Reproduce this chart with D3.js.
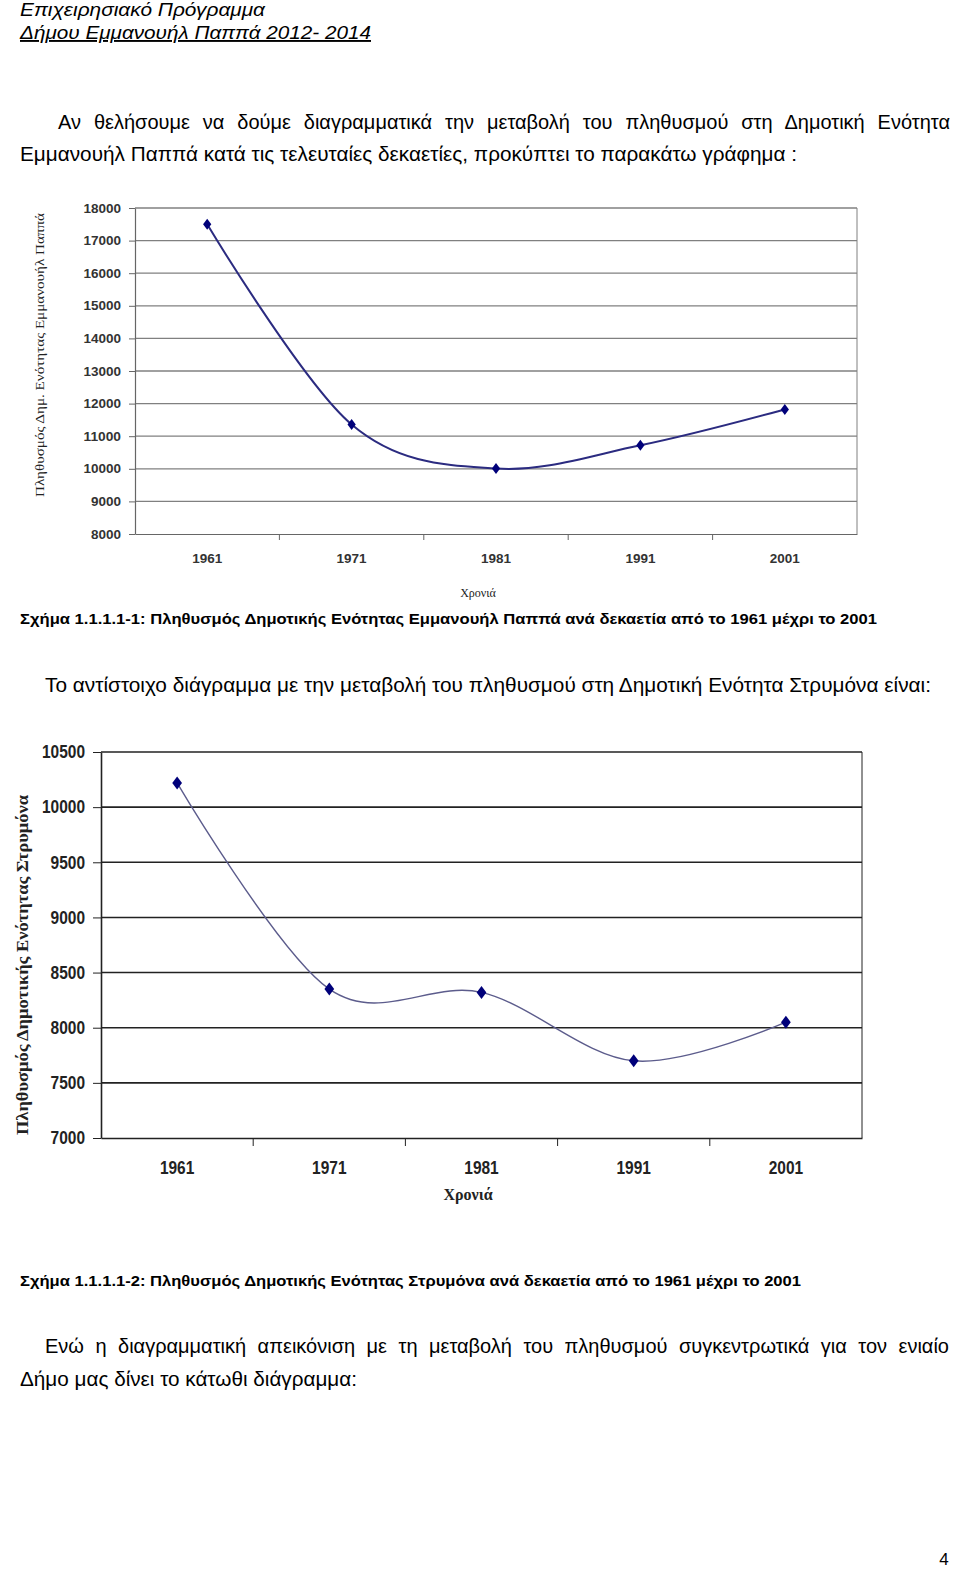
<!DOCTYPE html>
<html lang="el">
<head>
  <meta charset="UTF-8">
  <title>Πληθυσμός Δημοτικών Ενοτήτων</title>
  <style>
    body { margin: 0; background: #fff; }
    svg { display: block; }
  </style>
</head>
<body>
  <svg id="page" width="960" height="1579"></svg>

  <script src="https://d3js.org/d3.v7.min.js"></script>
  <script>
    // Data
    const years = ['1961', '1971', '1981', '1991', '2001'];
    const pappaPop = [17500, 11360, 10010, 10720, 11820];
    const pappaTicks = [8000, 9000, 10000, 11000, 12000, 13000, 14000, 15000, 16000, 17000, 18000];
    const strymonaPop = [10220, 8350, 8320, 7700, 8050];
    const strymonaTicks = [7000, 7500, 8000, 8500, 9000, 9500, 10000, 10500];

    const svg = d3.select('#page');
    const sans = '"Liberation Sans Narrow", "Arial Narrow", "Liberation Sans", Arial, sans-serif';
    const serif = '"Liberation Serif", "Times New Roman", "DejaVu Serif", serif';

    // one line of document text, fitted to the width it has in the page
    function textLine(str, x, y, width, o = {}) {
      const t = svg.append('text')
        .attr('x', x)
        .attr('y', y)
        .attr('font-family', o.family || sans)
        .attr('font-size', o.size || 20)
        .attr('font-weight', o.weight || 'normal')
        .attr('font-style', o.style || 'normal')
        .attr('fill', '#000')
        .text(str);
      const w = t.node().getComputedTextLength();
      const gaps = (str.match(/ /g) || []).length;
      if (o.justify && w < width && gaps) {
        t.style('word-spacing', ((width - w) / gaps) + 'px');
      } else {
        t.attr('textLength', width).attr('lengthAdjust', 'spacingAndGlyphs');
      }
      if (o.underline) t.attr('text-decoration', 'underline');
      return t;
    }

    // diamond marker, a bit wider than d3's own
    const diamond = {
      draw(ctx, r) {
        ctx.moveTo(0, -r);
        ctx.lineTo(r * 0.75, 0);
        ctx.lineTo(0, r);
        ctx.lineTo(-r * 0.75, 0);
        ctx.closePath();
      }
    };

    function drawChart(c) {
      const x = d3.scaleBand().domain(years).range([c.left, c.right]);
      const y = d3.scaleLinear()
        .domain([c.ticks[0], c.ticks[c.ticks.length - 1]])
        .range([c.bottom, c.top]);
      const g = svg.append('g');

      // horizontal gridlines
      g.append('g').selectAll('line')
        .data(c.ticks.slice(1))
        .join('line')
        .attr('x1', c.left).attr('x2', c.right)
        .attr('y1', d => y(d)).attr('y2', d => y(d))
        .attr('stroke', c.grid)
        .attr('stroke-width', c.gridW);

      // right edge of the plot area
      g.append('line')
        .attr('x1', c.right).attr('x2', c.right)
        .attr('y1', c.top).attr('y2', c.bottom)
        .attr('stroke', c.grid)
        .attr('stroke-width', 1);

      // y axis
      const ya = g.append('g')
        .attr('transform', `translate(${c.left},0)`)
        .call(d3.axisLeft(y).tickValues(c.ticks).tickSize(c.tick).tickSizeOuter(0)
          .tickPadding(c.pad).tickFormat(d3.format('d')));

      // x axis
      const xa = g.append('g')
        .attr('transform', `translate(0,${c.bottom})`)
        .call(d3.axisBottom(x).tickSize(0).tickSizeOuter(0).tickPadding(c.xpad));

      [ya, xa].forEach(a => {
        a.select('.domain').attr('stroke', c.axis).attr('stroke-width', c.axisW);
        a.selectAll('.tick line').attr('stroke', c.axis).attr('stroke-width', 1);
        a.selectAll('text')
          .attr('font-family', c.tickFont)
          .attr('font-size', c.tickSize)
          .attr('font-weight', 'bold')
          .attr('fill', c.tickColor)
          .each(function () {
            const n = this.textContent.length;
            d3.select(this).attr('textLength', n * c.digitW).attr('lengthAdjust', 'spacingAndGlyphs');
          });
      });

      // small ticks on the category boundaries
      g.append('g').selectAll('line')
        .data(years.slice(1))
        .join('line')
        .attr('x1', d => x(d)).attr('x2', d => x(d))
        .attr('y1', c.bottom).attr('y2', c.bottom + c.tick)
        .attr('stroke', c.axis);

      const cx = (d, i) => x(years[i]) + x.bandwidth() / 2;

      // smoothed series line
      const line = d3.line()
        .x(cx)
        .y(d => y(d))
        .curve(d3.curveCardinal.tension(0));

      g.append('path')
        .datum(c.values)
        .attr('d', line)
        .attr('fill', 'none')
        .attr('stroke', c.lineColor)
        .attr('stroke-width', c.lineW);

      g.append('g').selectAll('path')
        .data(c.values)
        .join('path')
        .attr('transform', (d, i) => `translate(${cx(d, i)},${y(d)})`)
        .attr('d', d3.symbol(diamond, c.marker))
        .attr('fill', '#00007a');

      // axis titles
      g.append('text')
        .attr('transform', `translate(${c.yTitle.x},${c.yTitle.y}) rotate(-90)`)
        .attr('text-anchor', 'middle')
        .attr('font-family', serif)
        .attr('font-size', c.yTitle.size)
        .attr('font-weight', c.titleWeight)
        .attr('fill', '#222')
        .attr('textLength', c.yTitle.len)
        .attr('lengthAdjust', 'spacingAndGlyphs')
        .text(c.yTitle.text);

      g.append('text')
        .attr('x', c.xTitle.x)
        .attr('y', c.xTitle.y)
        .attr('text-anchor', 'middle')
        .attr('font-family', serif)
        .attr('font-size', c.xTitle.size)
        .attr('font-weight', c.titleWeight)
        .attr('fill', '#222')
        .text('Χρονιά');
    }

    // page header
    textLine('Επιχειρησιακό Πρόγραμμα', 20, 16, 245, { size: 19, style: 'italic', family: '"Liberation Sans", Arial, sans-serif' });
    textLine('Δήμου Εμμανουήλ Παππά 2012- 2014', 20, 39, 351, { size: 19, style: 'italic', underline: true, family: '"Liberation Sans", Arial, sans-serif' });

    textLine('Αν θελήσουμε να δούμε διαγραμματικά την μεταβολή του πληθυσμού στη Δημοτική Ενότητα', 58, 129, 892, { justify: true });
    textLine('Εμμανουήλ Παππά κατά τις τελευταίες δεκαετίες, προκύπτει το παρακάτω γράφημα :', 20, 161, 777);

    drawChart({
      values: pappaPop, ticks: pappaTicks,
      left: 135, right: 857, top: 208, bottom: 534,
      grid: '#808080', gridW: 1.3, axis: '#666', axisW: 1.2,
      tick: 6, pad: 8, xpad: 20,
      tickFont: '"Liberation Sans", Arial, sans-serif', tickSize: 12.5, tickColor: '#333', digitW: 7.5,
      lineColor: '#2b2b80', lineW: 2, marker: 5.5,
      titleWeight: 'normal',
      yTitle: { x: 44, y: 355, size: 13, len: 284, text: 'Πληθυσμός Δημ. Ενότητας Εμμανουήλ Παππά' },
      xTitle: { x: 478, y: 597, size: 12 }
    });

    textLine('Σχήμα 1.1.1.1-1: Πληθυσμός Δημοτικής Ενότητας Εμμανουήλ Παππά ανά δεκαετία από το 1961 μέχρι το 2001', 20, 624, 857, { size: 15, weight: 'bold' });
    textLine('Το αντίστοιχο διάγραμμα με την μεταβολή του πληθυσμού στη Δημοτική Ενότητα Στρυμόνα είναι:', 45, 692, 886);

    drawChart({
      values: strymonaPop, ticks: strymonaTicks,
      left: 101, right: 862, top: 752, bottom: 1138,
      grid: '#222', gridW: 1.6, axis: '#222', axisW: 1.6,
      tick: 8, pad: 8, xpad: 23,
      tickFont: sans, tickSize: 18, tickColor: '#222', digitW: 8.6,
      lineColor: '#5c5c8c', lineW: 1.4, marker: 6.5,
      titleWeight: 'bold',
      yTitle: { x: 28, y: 965, size: 16, len: 340, text: 'Πληθυσμός Δημοτικής Ενότητας Στρυμόνα' },
      xTitle: { x: 468, y: 1200, size: 16 }
    });

    textLine('Σχήμα 1.1.1.1-2: Πληθυσμός Δημοτικής Ενότητας Στρυμόνα ανά δεκαετία από το 1961 μέχρι το 2001', 20, 1286, 781, { size: 15, weight: 'bold' });
    textLine('Ενώ η διαγραμματική απεικόνιση με τη μεταβολή του πληθυσμού συγκεντρωτικά για τον ενιαίο', 45, 1353, 904, { justify: true });
    textLine('Δήμο μας δίνει το κάτωθι διάγραμμα:', 20, 1386, 337);

    // page number
    svg.append('text')
      .attr('x', 944).attr('y', 1565)
      .attr('text-anchor', 'middle')
      .attr('font-family', '"Liberation Sans", Arial, sans-serif')
      .attr('font-size', 17)
      .text('4');
  </script>
</body>
</html>
